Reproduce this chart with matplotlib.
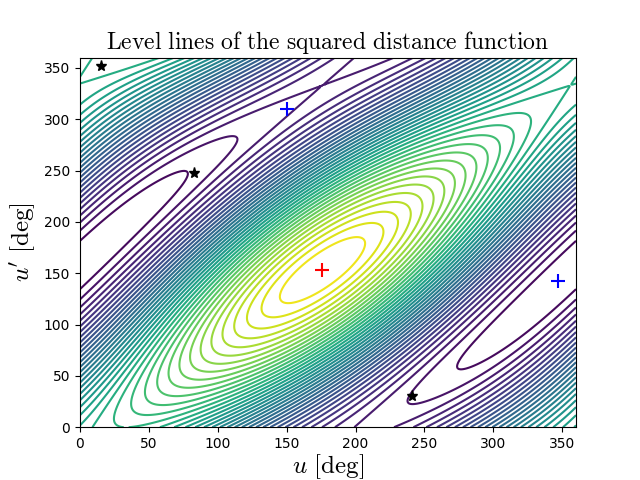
import numpy as np
import matplotlib as mpl
import matplotlib.pyplot as plt

mpl.rcParams['mathtext.fontset'] = 'cm'

# critical points [deg]
max_pt = [(176, 153)]
saddle_pts = [(150, 310), (347, 142)]
min_pts = [(15, 352), (83, 248), (241, 30)]

# coefficients of the trigonometric model of the squared distance
c_diag, shift_diag = 3.0, 23.0
c_u, phase_u = 0.9, 176.0
c_up, phase_up = 0.6, 153.0
n_levels = 40

u = np.linspace(0, 360, 361)
up = np.linspace(0, 360, 361)
U, UP = np.meshgrid(u, up)
r = np.radians
D2 = (c_diag * np.cos(r(U - UP - shift_diag))
      + c_u * np.cos(r(U - phase_u)) + c_up * np.cos(r(UP - phase_up)))
D2 = D2 - D2.min()

fig = plt.figure(figsize=(6.4, 4.8))
ax = plt.subplot(111)
ax.contour(U, UP, D2, levels=n_levels, cmap='viridis')
for x, y in max_pt:
    ax.plot(x, y, '+', color='red', ms=10, mew=1.5)
for x, y in saddle_pts:
    ax.plot(x, y, '+', color='blue', ms=10, mew=1.5)
for x, y in min_pts:
    ax.plot(x, y, '*', color='black', ms=8)
ax.set_xlim(0, 360)
ax.set_ylim(0, 360)
ax.set_title(r'$\mathrm{Level\ lines\ of\ the\ squared\ distance\ function}$', fontsize=17)
ax.set_xlabel(r'$u\ \mathrm{[deg]}$', fontsize=18, labelpad=1)
ax.set_ylabel(r"$u'\ \mathrm{[deg]}$", fontsize=18)
plt.savefig('out.png', dpi=100)
